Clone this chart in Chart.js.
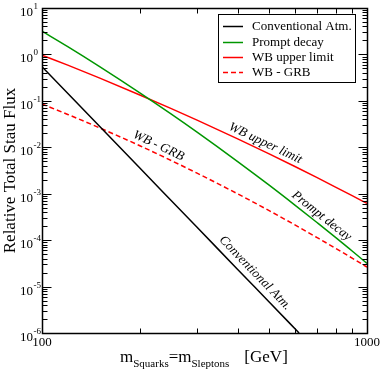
<!DOCTYPE html>
<html>
<head>
<meta charset="utf-8">
<script src="https://cdn.jsdelivr.net/npm/chart.js@4/dist/chart.umd.min.js"></script>
<style>
  html, body { margin: 0; padding: 0; background: #fff; }
  #wrap { width: 382px; height: 373px; }
</style>
</head>
<body>
<div id="wrap"><canvas id="stauChart" width="382" height="373"></canvas></div>
<script>
// squark/slepton mass in GeV
const masses = [100, 120, 150, 200, 250, 300, 400, 500, 600, 700, 800, 900, 1000];
const promptDecay = [3.16, 1.47, 0.553, 0.149, 0.0518, 0.0212, 4.93e-3, 1.53e-3, 5.70e-4, 2.43e-4, 1.15e-4, 5.83e-5, 3.16e-5];
const wbUpperLimit = [0.966, 0.587, 0.313, 0.134, 0.0681, 0.0385, 0.0152, 7.19e-3, 3.85e-3, 2.24e-3, 1.39e-3, 9.08e-4, 6.17e-4];
const wbGrb = [0.0853, 0.0510, 0.0264, 0.0108, 5.17e-3, 2.77e-3, 9.93e-4, 4.31e-4, 2.13e-4, 1.15e-4, 6.70e-5, 4.10e-5, 2.63e-5];
const convMasses = [100, 200, 300, 400, 500, 618];
const convAtm = [0.543, 3.57e-3, 1.89e-4, 2.34e-5, 4.65e-6, 1e-6];

const yExponents = [1, 0, -1, -2, -3, -4, -5, -6];
const xTickLabels = [100, 1000];
const xMinorTicks = [200, 300, 400, 500, 600, 700, 800, 900];

const legendItems = [
    { label: "Conventional Atm.", color: "#000000", dash: [] },
    { label: "Prompt decay", color: "#009600", dash: [] },
    { label: "WB upper limit", color: "#ff0000", dash: [] },
    { label: "WB - GRB", color: "#ff0000", dash: [5, 3] }
];

const serif = '"Liberation Serif", "DejaVu Serif", serif';

function toPoints(xs, ys) {
    return xs.map((x, i) => ({ x, y: ys[i] }));
}

// log-log position along a curve, used only to place the slanted labels
function pointOnCurve(chart, xs, ys, xv) {
    let i = 0;
    while (i < xs.length - 2 && xs[i + 1] < xv) i++;
    const t = (Math.log10(xv) - Math.log10(xs[i])) / (Math.log10(xs[i + 1]) - Math.log10(xs[i]));
    const ly = Math.log10(ys[i]) + t * (Math.log10(ys[i + 1]) - Math.log10(ys[i]));
    const sx = chart.scales.x, sy = chart.scales.y;
    const ax = sx.getPixelForValue(xs[i]), ay = sy.getPixelForValue(ys[i]);
    const bx = sx.getPixelForValue(xs[i + 1]), by = sy.getPixelForValue(ys[i + 1]);
    return {
        px: sx.getPixelForValue(xv),
        py: sy.getPixelForValue(Math.pow(10, ly)),
        angle: Math.atan2(by - ay, bx - ax)
    };
}

const curveLabels = [
    { text: "WB upper limit", xs: masses, ys: wbUpperLimit, at: 475, offset: 8 },
    { text: "Prompt decay", xs: masses, ys: promptDecay, at: 700, offset: 8 },
    { text: "WB - GRB", xs: masses, ys: wbGrb, at: 223, offset: 8 },
    { text: "Conventional Atm.", xs: convMasses, ys: convAtm, at: 430, offset: 10 }
];

const decorations = {
    id: "decorations",
    afterDraw(chart) {
        const { ctx, chartArea: a, scales: { x, y } } = chart;
        const L = Math.round(a.left) + 0.5, R = Math.round(a.right) + 0.5;
        const T = Math.round(a.top) + 0.5, B = Math.round(a.bottom) + 0.5;
        ctx.save();

        // ticks, pointing inward on all four sides
        ctx.strokeStyle = "#000";
        ctx.lineWidth = 1;
        ctx.beginPath();
        yExponents.forEach(e => {
            const py = Math.round(y.getPixelForValue(Math.pow(10, e))) + 0.5;
            ctx.moveTo(L, py); ctx.lineTo(L + 9, py);
            ctx.moveTo(R, py); ctx.lineTo(R - 9, py);
            if (e < 1) {
                for (let m = 2; m <= 9; m++) {
                    const my = Math.round(y.getPixelForValue(m * Math.pow(10, e))) + 0.5;
                    ctx.moveTo(L, my); ctx.lineTo(L + 5, my);
                    ctx.moveTo(R, my); ctx.lineTo(R - 5, my);
                }
            }
        });
        xMinorTicks.forEach(v => {
            const px = Math.round(x.getPixelForValue(v)) + 0.5;
            ctx.moveTo(px, B); ctx.lineTo(px, B - 5);
            ctx.moveTo(px, T); ctx.lineTo(px, T + 5);
        });
        ctx.stroke();

        ctx.lineWidth = 1.5;
        ctx.strokeRect(L, T, R - L, B - T);

        // y tick labels 10^e
        ctx.fillStyle = "#000";
        ctx.textBaseline = "alphabetic";
        yExponents.forEach(e => {
            const py = y.getPixelForValue(Math.pow(10, e));
            ctx.font = "13px " + serif;
            ctx.textAlign = "right";
            ctx.fillText("10", 33, py + 8);
            ctx.font = "9px " + serif;
            ctx.textAlign = "left";
            ctx.fillText(String(e), 33.5, py + 1);
        });

        // x tick labels
        ctx.font = "13px " + serif;
        ctx.textAlign = "center";
        xTickLabels.forEach(v => {
            ctx.fillText(String(v), x.getPixelForValue(v), 346);
        });

        // x title with subscripts
        ctx.textAlign = "left";
        let cx = 120;
        const parts = [
            ["m", 17, 362], ["Squarks", 11, 367], ["=", 17, 362],
            ["m", 17, 362], ["Sleptons", 11, 367]
        ];
        parts.forEach(([t, size, base]) => {
            ctx.font = size + "px " + serif;
            ctx.fillText(t, cx, base);
            cx += ctx.measureText(t).width;
        });
        ctx.font = "17px " + serif;
        ctx.fillText("[GeV]", cx + 15, 362);

        // y title
        ctx.save();
        ctx.translate(15, (a.top + a.bottom) / 2);
        ctx.rotate(-Math.PI / 2);
        ctx.textAlign = "center";
        ctx.font = "17px " + serif;
        ctx.fillText("Relative Total Stau Flux", 0, 0);
        ctx.restore();

        // slanted curve labels
        ctx.font = "italic 13px " + serif;
        ctx.textAlign = "center";
        ctx.textBaseline = "middle";
        curveLabels.forEach(lab => {
            const p = pointOnCurve(chart, lab.xs, lab.ys, lab.at);
            const nx = Math.sin(p.angle), ny = -Math.cos(p.angle);
            ctx.save();
            ctx.translate(p.px + nx * lab.offset, p.py + ny * lab.offset);
            ctx.rotate(p.angle);
            ctx.fillText(lab.text, 0, 0);
            ctx.restore();
        });

        // legend box
        ctx.lineWidth = 1;
        ctx.strokeStyle = "#000";
        ctx.fillStyle = "#fff";
        ctx.fillRect(218.5, 14.5, 137, 68);
        ctx.strokeRect(218.5, 14.5, 137, 68);
        ctx.font = "13px " + serif;
        ctx.textAlign = "left";
        ctx.textBaseline = "middle";
        const rows = [26, 42, 57, 72];
        legendItems.forEach((item, i) => {
            ctx.strokeStyle = item.color;
            ctx.lineWidth = 1.5;
            ctx.setLineDash(item.dash);
            ctx.beginPath();
            ctx.moveTo(223, rows[i] + 0.5);
            ctx.lineTo(243, rows[i] + 0.5);
            ctx.stroke();
            ctx.setLineDash([]);
            ctx.fillStyle = "#000";
            ctx.fillText(item.label, 252, rows[i] + 1);
        });

        ctx.restore();
    }
};

new Chart(document.getElementById("stauChart"), {
    type: "line",
    data: {
        datasets: [
            { label: "Conventional Atm.", data: toPoints(convMasses, convAtm), borderColor: "#000000" },
            { label: "Prompt decay", data: toPoints(masses, promptDecay), borderColor: "#009600" },
            { label: "WB upper limit", data: toPoints(masses, wbUpperLimit), borderColor: "#ff0000" },
            { label: "WB - GRB", data: toPoints(masses, wbGrb), borderColor: "#ff0000", borderDash: [5, 3] }
        ].map(ds => Object.assign({
            borderWidth: 1.5,
            pointRadius: 0,
            fill: false,
            cubicInterpolationMode: "monotone"
        }, ds))
    },
    options: {
        responsive: false,
        animation: false,
        layout: { padding: { left: 42, right: 15, top: 8, bottom: 40 } },
        plugins: { legend: { display: false }, tooltip: { enabled: false } },
        scales: {
            x: { type: "logarithmic", min: 100, max: 1000, display: false },
            y: { type: "logarithmic", min: 1e-6, max: 10, display: false }
        }
    },
    plugins: [decorations]
});
</script>
</body>
</html>
